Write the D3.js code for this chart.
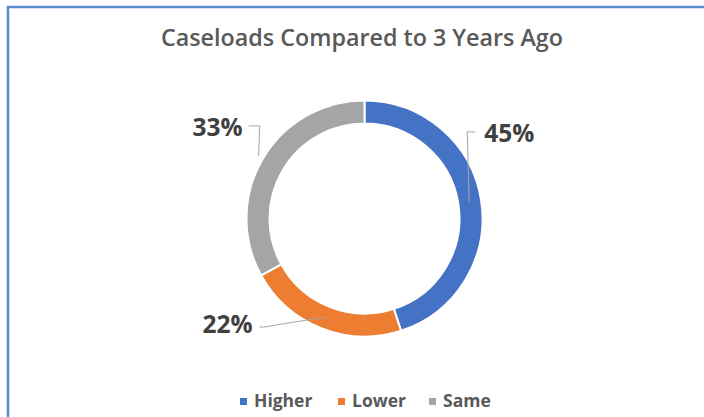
<!DOCTYPE html>
<html>
<head>
<meta charset="utf-8">
<script src="https://cdn.jsdelivr.net/npm/d3@7"></script>
<style>
  html, body { margin: 0; padding: 0; background: #fff; }
  svg { display: block; }
</style>
</head>
<body>
<svg id="chart" width="704" height="417"></svg>
<script>
// Survey answers: how caseloads compare to three years ago
const categories = ["Higher", "Lower", "Same"];
const shares = [45, 22, 33];
const colors = ["#4472C4", "#ED7D31", "#A5A5A5"];
const title = "Caseloads Compared to 3 Years Ago";

const W = 704, H = 417;
const svg = d3.select("#chart");
const font = "'Open Sans', 'Noto Sans', sans-serif";

// chart frame (runs off the right and bottom edges)
svg.append("rect")
  .attr("x", 8).attr("y", 7)
  .attr("width", W + 20).attr("height", H + 20)
  .attr("fill", "#fff")
  .attr("stroke", "#5B8BD1")
  .attr("stroke-width", 2.5);

svg.append("text")
  .attr("x", 362).attr("y", 46)
  .attr("text-anchor", "middle")
  .attr("font-family", font)
  .attr("font-weight", 600)
  .attr("font-size", 23.3)
  .attr("fill", "#595959")
  .text(title);

const cx = 364.5, cy = 218.5, R = 118, r = 95;
const g = svg.append("g").attr("transform", `translate(${cx},${cy})`);

const pie = d3.pie().sort(null).value(d => d.value);
const data = categories.map((c, i) => ({ name: c, value: shares[i], color: colors[i] }));
const arcs = pie(data);
const arc = d3.arc().innerRadius(r).outerRadius(R);

g.selectAll("path.slice")
  .data(arcs)
  .join("path")
  .attr("class", "slice")
  .attr("d", arc)
  .attr("fill", d => d.data.color)
  .attr("stroke", "#fff")
  .attr("stroke-width", 2);

// leader lines: anchor radius on the ring, elbow and label offsets
const layout = {
  Higher: { rad: 106, elbow: [-2, -70], tail: [8, 0], label: [17, 10], anchor: "start" },
  Lower:  { rad: 106, elbow: [-62, 10], tail: [-4, 0], label: [-11, 6], anchor: "end" },
  Same:   { rad: 123, elbow: [1, -30], tail: [-11, 0], label: [-17, 10], anchor: "end" }
};

function ringPoint(d, rad) {
  const a = (d.startAngle + d.endAngle) / 2;
  return [Math.sin(a) * rad, -Math.cos(a) * rad];
}

arcs.forEach(d => {
  const L = layout[d.data.name];
  const p0 = ringPoint(d, L.rad);
  const p1 = [p0[0] + L.elbow[0], p0[1] + L.elbow[1]];
  const p2 = [p1[0] + L.tail[0], p1[1] + L.tail[1]];
  g.append("path")
    .attr("d", d3.line()([p0, p1, p2]))
    .attr("fill", "none")
    .attr("stroke", "#A6A6A6")
    .attr("stroke-width", 1);
  g.append("text")
    .attr("x", p1[0] + L.label[0])
    .attr("y", p1[1] + L.label[1])
    .attr("text-anchor", L.anchor)
    .attr("font-family", font)
    .attr("font-weight", 700)
    .attr("font-size", 24.5)
    .attr("fill", "#404040")
    .text(d3.format(".0%")(d.data.value / 100));
});

// legend
const legendX = [240, 338, 429];
const legend = svg.append("g");
categories.forEach((c, i) => {
  const item = legend.append("g").attr("transform", `translate(${legendX[i]},407)`);
  item.append("rect")
    .attr("x", 0).attr("y", -9)
    .attr("width", 7).attr("height", 7)
    .attr("fill", colors[i]);
  item.append("text")
    .attr("x", 14).attr("y", 0)
    .attr("font-family", font)
    .attr("font-weight", 700)
    .attr("font-size", 17.5)
    .attr("fill", "#595959")
    .text(c);
});
</script>
</body>
</html>
